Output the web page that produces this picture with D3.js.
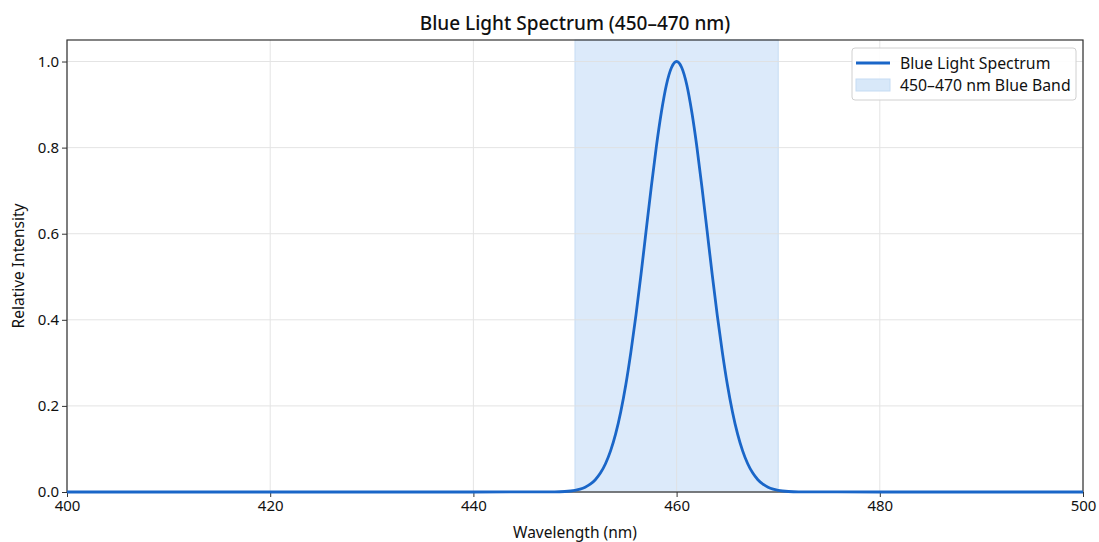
<!DOCTYPE html>
<html><head><meta charset="utf-8">
<script src="https://cdn.jsdelivr.net/npm/d3@7"></script>
<style>
body{margin:0;background:#fff;}
text{font-family:"Noto Sans",sans-serif;fill:#111;}
</style></head>
<body><svg id="c" width="1099" height="542"></svg>
<script>
const wavelengths = [400,420,440,448,449,450,450.5,451,451.5,452,452.5,453,453.5,454,454.5,455,455.5,456,456.5,457,457.5,458,458.5,459,459.5,460,460.5,461,461.5,462,462.5,463,463.5,464,464.5,465,465.5,466,466.5,467,467.5,468,468.5,469,469.5,470,471,472,480,500];
const intensity = [0,0,0,0.0003,0.0012,0.0039,0.0066,0.0111,0.0181,0.0286,0.0439,0.0657,0.0956,0.135,0.186,0.249,0.325,0.411,0.506,0.607,0.707,0.801,0.882,0.946,0.986,1.0,0.986,0.946,0.882,0.801,0.707,0.607,0.506,0.411,0.325,0.249,0.186,0.135,0.0956,0.0657,0.0439,0.0286,0.0181,0.0111,0.0066,0.0039,0.0012,0.0003,0,0];
const band = [450,470];
const xTicks = [400,420,440,460,480,500];
const yTicks = [0,0.2,0.4,0.6,0.8,1.0];
const title = "Blue Light Spectrum (450–470 nm)";
const xLabel = "Wavelength (nm)";
const yLabel = "Relative Intensity";
const legendLabels = ["Blue Light Spectrum","450–470 nm Blue Band"];

const svg = d3.select("#c");
const m = {l:67,r:1083,t:40,b:492};
const x = d3.scaleLinear().domain([400,500]).range([m.l,m.r]);
const y = d3.scaleLinear().domain([0,1.05]).range([m.b,m.t]);
const lineColor = "#1a66c8", bandColor = "#d8e8f9";

// band
svg.append("rect").attr("x",x(band[0])).attr("y",m.t)
  .attr("width",x(band[1])-x(band[0])).attr("height",m.b-m.t)
  .attr("fill",bandColor).attr("fill-opacity",0.9)
  .attr("stroke","#c5dcf3").attr("stroke-width",1);

// grid
const g = svg.append("g").attr("opacity",0.85);
g.selectAll(".gx").data(xTicks).enter().append("line")
  .attr("x1",d=>x(d)).attr("x2",d=>x(d)).attr("y1",m.t).attr("y2",m.b)
  .attr("stroke","#e0e0e0").attr("stroke-width",1);
g.selectAll(".gy").data(yTicks).enter().append("line")
  .attr("x1",m.l).attr("x2",m.r).attr("y1",d=>y(d)).attr("y2",d=>y(d))
  .attr("stroke","#e0e0e0").attr("stroke-width",1);

// axes
const xAxis = svg.append("g").attr("transform",`translate(0,${m.b})`)
  .call(d3.axisBottom(x).tickValues(xTicks).tickSize(5).tickPadding(3).tickFormat(d3.format("d")));
const yAxis = svg.append("g").attr("transform",`translate(${m.l},0)`)
  .call(d3.axisLeft(y).tickValues(yTicks).tickSize(5).tickPadding(3).tickFormat(d3.format(".1f")));
[xAxis,yAxis].forEach(a=>{
  a.select(".domain").remove();
  a.selectAll("line").attr("stroke","#333");
  a.selectAll("text").style("font-size","15px").attr("fill","#111");
});
// frame
svg.append("rect").attr("x",m.l).attr("y",m.t).attr("width",m.r-m.l).attr("height",m.b-m.t)
  .attr("fill","none").attr("stroke","#333").attr("stroke-width",1.2);

// line
const line = d3.line().x((d,i)=>x(wavelengths[i])).y(d=>y(d)).curve(d3.curveMonotoneX);
svg.append("path").datum(intensity).attr("d",line)
  .attr("fill","none").attr("stroke",lineColor).attr("stroke-width",2.8);

// title and labels
svg.append("text").attr("x",(m.l+m.r)/2).attr("y",30).attr("text-anchor","middle")
  .style("font-size","19px").style("font-weight",500).text(title);
svg.append("text").attr("x",(m.l+m.r)/2).attr("y",538).attr("text-anchor","middle")
  .style("font-size","15.5px").text(xLabel);
svg.append("text").attr("transform",`translate(24,${(m.t+m.b)/2}) rotate(-90)`).attr("text-anchor","middle")
  .style("font-size","15.5px").text(yLabel);

// legend
const lg = svg.append("g");
lg.append("rect").attr("x",852).attr("y",48).attr("width",224).attr("height",52).attr("rx",3)
  .attr("fill","#fff").attr("fill-opacity",0.9).attr("stroke","#d0d0d0");
lg.append("line").attr("x1",856).attr("x2",890).attr("y1",63).attr("y2",63)
  .attr("stroke",lineColor).attr("stroke-width",2.8);
lg.append("rect").attr("x",856).attr("y",79).attr("width",34).attr("height",12)
  .attr("fill",bandColor).attr("stroke","#c5dcf3");
lg.selectAll(".lt").data(legendLabels).enter().append("text")
  .attr("x",900).attr("y",(d,i)=>63+i*22).attr("dy","0.35em")
  .style("font-size","15.8px").text(d=>d);
</script></body></html>
